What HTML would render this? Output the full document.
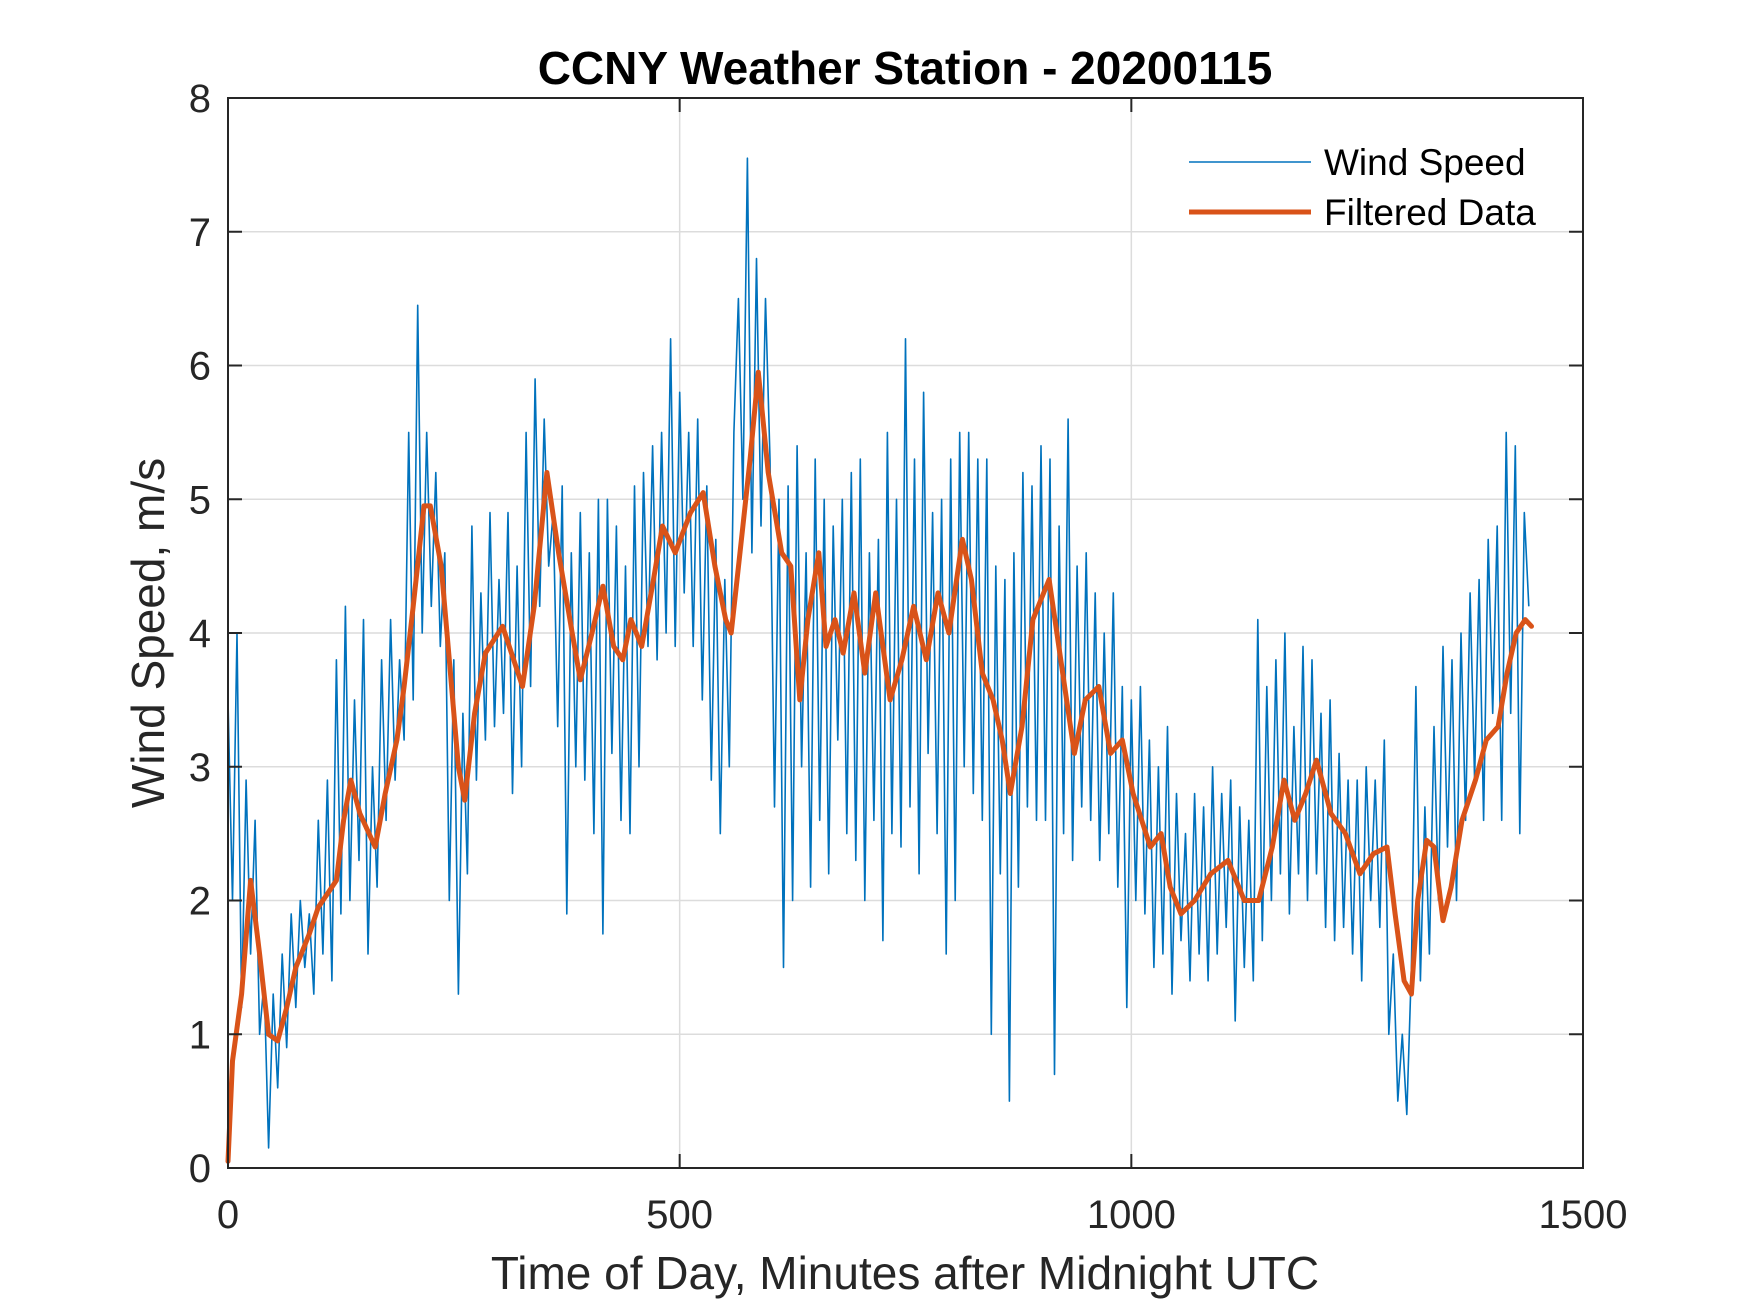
<!DOCTYPE html>
<html><head><meta charset="utf-8"><style>
html,body{margin:0;padding:0;background:#fff;}
svg{display:block;font-family:"Liberation Sans",Arial,sans-serif;}
</style></head><body>
<svg id="chart" width="1750" height="1313" viewBox="0 0 1750 1313" xmlns="http://www.w3.org/2000/svg">
<rect width="1750" height="1313" fill="#fff"/>
<g id="grid"></g>
<g id="series"></g>
<rect x="228" y="98" width="1355" height="1070" fill="none" stroke="#262626" stroke-width="2"/>
<g id="ticks"></g>
<text x="905" y="84" text-anchor="middle" font-size="46" font-weight="bold" fill="#000">CCNY Weather Station - 20200115</text>
<text x="905" y="1289" text-anchor="middle" font-size="46" fill="#262626">Time of Day, Minutes after Midnight UTC</text>
<text transform="translate(164,633) rotate(-90)" text-anchor="middle" font-size="46" fill="#262626">Wind Speed, m/s</text>
<g>
<line x1="1189" y1="162" x2="1311" y2="162" stroke="#0072BD" stroke-width="1.6"/>
<text x="1324" y="175" font-size="37" fill="#000">Wind Speed</text>
<line x1="1189" y1="212" x2="1311" y2="212" stroke="#D95319" stroke-width="5"/>
<text x="1324" y="225" font-size="37" fill="#000">Filtered Data</text>
</g>
</svg>
<script>
const xTicks=[0,500,1000,1500];
const yTicks=[0,1,2,3,4,5,6,7,8];
const windStep=5;
const windSpeed=[
3.5,2.0,4.0,1.2,2.9,1.6,2.6,1.0,1.4,0.15,1.3,0.6,
1.6,0.9,1.9,1.2,2.0,1.5,1.9,1.3,2.6,1.6,2.9,1.4,
3.8,1.9,4.2,2.0,3.5,2.3,4.1,1.6,3.0,2.1,3.8,2.6,
4.1,2.9,3.8,3.2,5.5,3.5,6.45,4.0,5.5,4.2,5.2,3.9,
4.6,2.0,3.8,1.3,3.4,2.2,4.8,2.9,4.3,3.2,4.9,3.3,
4.4,3.4,4.9,2.8,4.5,3.0,5.5,3.6,5.9,4.2,5.6,4.5,
4.9,3.3,5.1,1.9,4.6,3.0,4.9,2.9,4.6,2.5,5.0,1.75,
5.0,3.1,4.8,2.6,4.5,2.5,5.1,3.0,5.2,3.9,5.4,3.8,
5.5,4.0,6.2,3.9,5.8,4.3,5.5,3.9,5.6,3.5,5.1,2.9,
4.7,2.5,4.4,3.0,5.5,6.5,5.0,7.55,4.6,6.8,4.8,6.5,
5.3,2.7,5.0,1.5,5.1,2.0,5.4,3.0,4.6,2.1,5.3,2.6,
5.0,2.2,4.8,3.2,5.0,2.5,5.2,2.3,5.3,2.0,4.6,2.6,
4.7,1.7,5.5,2.5,5.0,2.4,6.2,2.7,5.3,2.2,5.8,3.1,
4.9,2.5,5.0,1.6,5.3,2.0,5.5,3.0,5.5,2.8,5.3,2.6,
5.3,1.0,4.5,2.2,4.4,0.5,4.6,2.1,5.2,2.7,5.1,2.6,
5.4,2.6,5.3,0.7,4.8,2.5,5.6,2.3,4.5,2.7,4.6,2.6,
4.3,2.3,4.0,2.5,4.3,2.1,3.6,1.2,3.5,2.0,3.6,1.9,
3.2,1.5,3.0,1.6,3.3,1.3,2.8,1.7,2.5,1.4,2.8,1.6,
2.7,1.4,3.0,1.6,2.8,1.8,2.9,1.1,2.7,1.5,2.6,1.4,
4.1,1.7,3.6,2.0,3.8,2.2,4.0,1.9,3.3,2.2,3.9,2.0,
3.8,2.2,3.4,1.8,3.5,1.7,3.1,1.8,2.9,1.6,2.9,1.4,
3.0,2.0,2.9,1.8,3.2,1.0,1.6,0.5,1.0,0.4,1.5,3.6,
1.4,2.7,1.6,3.3,2.0,3.9,2.4,3.8,2.0,4.0,2.6,4.3,
2.9,4.4,2.6,4.7,3.4,4.8,2.6,5.5,3.4,5.4,2.5,4.9,
4.2];
const filtT=[0,5,15,25,35,45,55,65,75,90,100,110,120,128,136,146,163,174,187,195,205,217,224,236,245,255,262,273,285,304,326,339,353,366,381,390,403,415,427,437,446,458,471,481,495,512,526,539,551,557,570,578,587,598,613,623,633,642,654,662,672,681,693,705,717,733,746,759,773,786,798,813,823,835,847,857,866,879,891,909,924,937,949,964,977,990,1002,1021,1033,1043,1055,1070,1088,1107,1125,1141,1156,1169,1181,1193,1205,1221,1237,1253,1268,1283,1292,1302,1310,1317,1327,1335,1345,1354,1366,1381,1393,1406,1416,1426,1436,1443];
const filtV=[0.05,0.8,1.3,2.15,1.6,1.0,0.95,1.2,1.5,1.75,1.95,2.05,2.15,2.6,2.9,2.65,2.4,2.8,3.2,3.6,4.2,4.95,4.95,4.5,3.8,3.0,2.75,3.4,3.85,4.05,3.6,4.2,5.2,4.6,4.0,3.65,4.0,4.35,3.9,3.8,4.1,3.9,4.4,4.8,4.6,4.9,5.05,4.5,4.1,4.0,4.8,5.3,5.95,5.2,4.6,4.5,3.5,4.1,4.6,3.9,4.1,3.85,4.3,3.7,4.3,3.5,3.8,4.2,3.8,4.3,4.0,4.7,4.4,3.7,3.5,3.2,2.8,3.3,4.1,4.4,3.7,3.1,3.5,3.6,3.1,3.2,2.8,2.4,2.5,2.1,1.9,2.0,2.2,2.3,2.0,2.0,2.4,2.9,2.6,2.8,3.05,2.65,2.5,2.2,2.35,2.4,1.9,1.4,1.3,2.0,2.45,2.4,1.85,2.1,2.6,2.9,3.2,3.3,3.7,4.0,4.1,4.05];

const L=228,R=1583,T=98,B=1168;
const xs=v=>L+(v-0)/(1500-0)*(R-L);
const ys=v=>B-(v-0)/(8-0)*(B-T);
const NS="http://www.w3.org/2000/svg";
function mk(tag,attrs,parent){const e=document.createElementNS(NS,tag);for(const k in attrs)e.setAttribute(k,attrs[k]);parent.appendChild(e);return e;}
const grid=document.getElementById('grid'),ticks=document.getElementById('ticks'),series=document.getElementById('series');
xTicks.forEach(t=>{
  const x=xs(t);
  const g=mk('line',{x1:x,x2:x,y1:T,y2:B,stroke:'#dcdcdc','stroke-width':1.5},grid);
  
  
  const a=mk('line',{x1:x,x2:x,y1:B,y2:B-14,stroke:'#262626','stroke-width':2},ticks);
  
  
  const b=mk('line',{x1:x,x2:x,y1:T,y2:T+14,stroke:'#262626','stroke-width':2},ticks);
  
  
  const tx=mk('text',{x:x,y:1228,'text-anchor':'middle','font-size':40,fill:'#262626'},ticks);
  tx.textContent=t;
  
  
});
yTicks.forEach(t=>{
  const y=ys(t);
  const g=mk('line',{x1:L,x2:R,y1:y,y2:y,stroke:'#dcdcdc','stroke-width':1.5},grid);
  
  
  const a=mk('line',{x1:L,x2:L+14,y1:y,y2:y,stroke:'#262626','stroke-width':2},ticks);
  
  
  const b=mk('line',{x1:R,x2:R-14,y1:y,y2:y,stroke:'#262626','stroke-width':2},ticks);
  
  
  const tx=mk('text',{x:211,y:y+14,'text-anchor':'end','font-size':40,fill:'#262626'},ticks);
  tx.textContent=t;
  
  
});
const wp=windSpeed.map((v,i)=>xs(i*windStep).toFixed(1)+','+ys(v).toFixed(1)).join(' ');
const w=mk('polyline',{points:wp,fill:'none',stroke:'#0072BD','stroke-width':1.6,'stroke-linejoin':'round'},series);


const fp=filtT.map((t,i)=>xs(t).toFixed(1)+','+ys(filtV[i]).toFixed(1)).join(' ');
const f=mk('polyline',{points:fp,fill:'none',stroke:'#D95319','stroke-width':5,'stroke-linejoin':'round','stroke-linecap':'round'},series);


</script>
</body></html>
